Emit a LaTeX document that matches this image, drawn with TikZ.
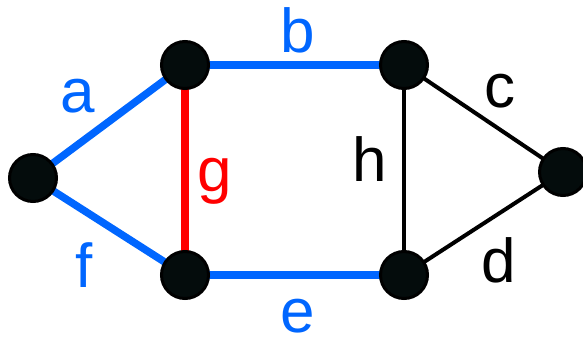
\documentclass[tikz,border=0pt]{standalone}
\usepackage{fontspec}
\setmainfont{Liberation Sans}
\usetikzlibrary{backgrounds}
\definecolor{eblue}{RGB}{0,102,255}
\definecolor{ered}{RGB}{255,0,0}
\definecolor{vfill}{RGB}{4,12,12}
\begin{document}
\begin{tikzpicture}[x=1pt,y=-1pt,
  vert/.style={circle,draw=black,fill=vfill,line width=3pt,minimum size=47pt,inner sep=0pt},
  lbl/.style={anchor=base,inner sep=0pt,font=\fontsize{62}{70}\selectfont},
  blueedge/.style={draw=eblue,line width=7.5pt},
  rededge/.style={draw=ered,line width=8.5pt},
  blackedge/.style={draw=black,line width=4pt}]
\useasboundingbox (0,0) rectangle (583,339);
\node[vert] (L) at (33,178) {};
\node[vert] (TL) at (185,65) {};
\node[vert] (BL) at (185,275) {};
\node[vert] (TR) at (404,65) {};
\node[vert] (BR) at (404,275) {};
\node[vert] (R) at (563,172) {};
\begin{scope}[on background layer]
\path[blueedge] (L.center) -- (TL.center);
\path[blueedge] (TL.center) -- (TR.center);
\path[blueedge] (L.center) -- (BL.center);
\path[blueedge] (BL.center) -- (BR.center);
\path[rededge] (TL.center) -- (BL.center);
\path[blackedge] (TR.center) -- (BR.center);
\path[blackedge] (TR.center) -- (R.center);
\path[blackedge] (BR.center) -- (R.center);
\end{scope}
\node[lbl,text=eblue] (la) at (78,113) {a};
\node[lbl,text=eblue] (lb) at (298,53) {b};
\node[lbl] (lc) at (500,108) {c};
\node[lbl] (ld) at (499,282) {d};
\node[lbl,text=eblue,text depth=0pt] (le) at (298,332) {e};
\node[lbl,text=eblue] (lf) at (84,287) {f};
\node[lbl,text=ered] (lg) at (215,191) {g};
\node[lbl] (lh) at (370,182) {h};
\end{tikzpicture}
\end{document}
